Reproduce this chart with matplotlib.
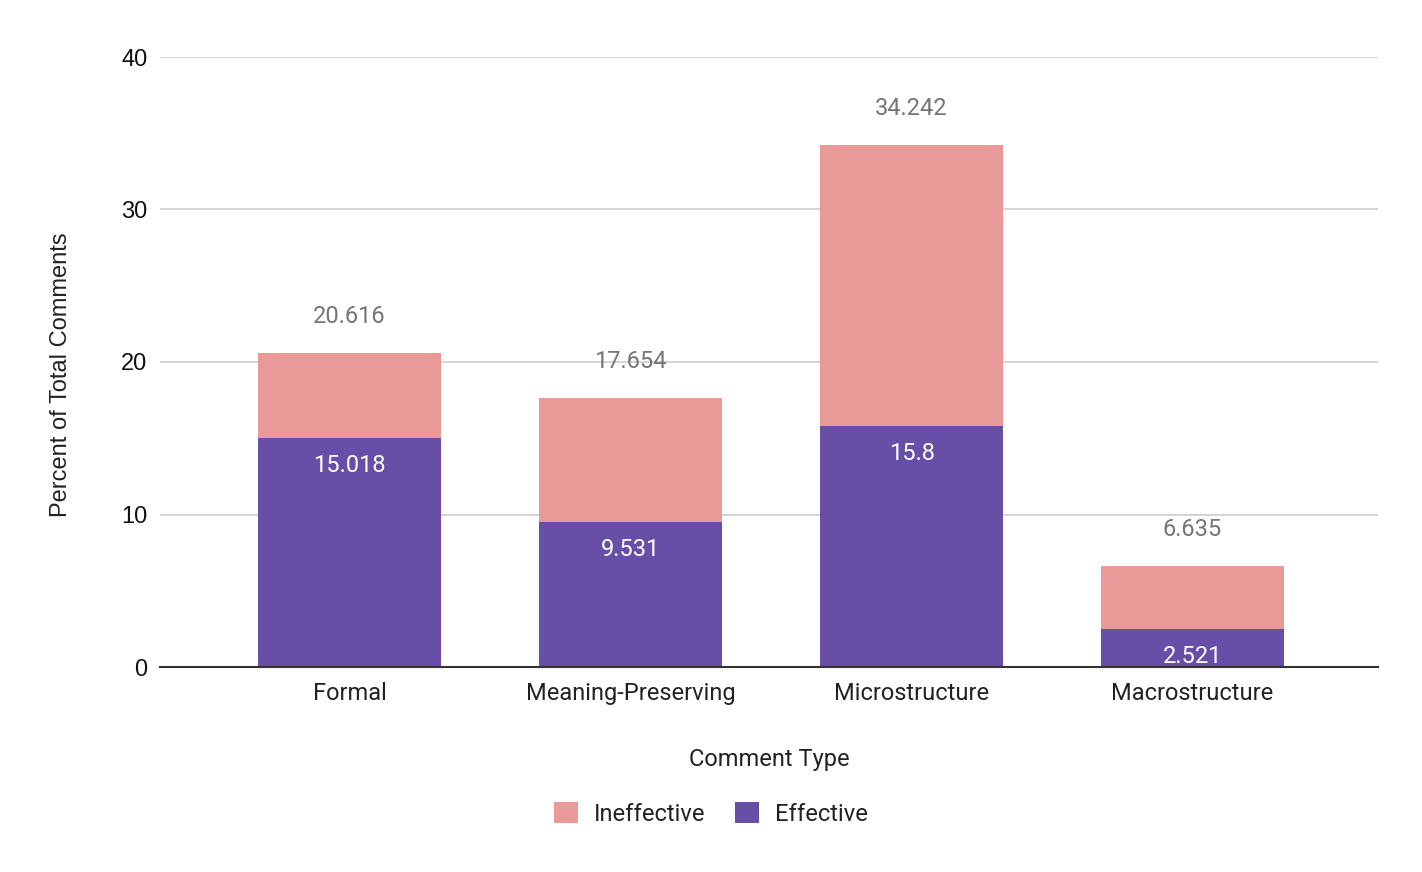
import numpy as np
import matplotlib
matplotlib.use("Agg")
import matplotlib.pyplot as plt
from matplotlib.patches import Patch

categories = ["Formal", "Meaning-Preserving", "Microstructure", "Macrostructure"]
effective = np.array([15.018, 9.531, 15.8, 2.521])
totals = np.array([20.616, 17.654, 34.242, 6.635])
ineffective = totals - effective

pink = "#EA9999"
purple = "#674EA7"

plt.rcParams['font.family'] = ['Roboto', 'DejaVu Sans']

fig = plt.figure(figsize=(14.22, 8.72), dpi=100)
ax = fig.add_axes([160/1422, 1-667/872, 1218/1422, 610/872])

x = np.arange(len(categories))
ax.bar(x, effective, width=0.65, color=purple, zorder=2)
ax.bar(x, ineffective, width=0.65, bottom=effective, color=pink, zorder=2)

for xi, e, t in zip(x, effective, totals):
    ax.annotate(f"{e:g}", (xi, e), xytext=(0, -20), textcoords="offset points",
                ha="center", va="center", color="white", fontsize=17, zorder=4)
    ax.annotate(f"{t:g}", (xi, t), xytext=(0, 26), textcoords="offset points",
                ha="center", va="center", color="#757575", fontsize=17, zorder=4)

ax.set_xlim(-0.675, 3.66)
ax.set_ylim(0, 40)
ax.set_yticks([0, 10, 20, 30, 40])
ax.grid(axis="y", color="#cccccc", lw=1.2, zorder=0)
ax.set_axisbelow(True)
for s in ["top", "right", "left"]:
    ax.spines[s].set_visible(False)
ax.spines["bottom"].set_color("#333333")
ax.spines["bottom"].set_linewidth(1.5)
ax.spines["bottom"].set_zorder(3)

ax.set_xticks(x)
ax.set_xticklabels(categories, fontsize=17, color="#222222")
ax.tick_params(axis="x", length=0, pad=11)
ax.tick_params(axis="y", length=0, pad=9, labelsize=17, labelcolor="#111111")
for lbl in ax.get_yticklabels():
    lbl.set_family(["Liberation Sans", "DejaVu Sans"])

ax.set_xlabel("Comment Type", fontsize=17, color="#222222")
ax.xaxis.set_label_coords(0.5, -0.132)
ax.set_ylabel("Percent of Total Comments", fontsize=17, color="#222222",
              family=["Liberation Sans", "DejaVu Sans"])
ax.yaxis.set_label_coords(-0.072, 0.479)

handles = [Patch(facecolor=pink, label="Ineffective"),
           Patch(facecolor=purple, label="Effective")]
fig.legend(handles=handles, loc="center", bbox_to_anchor=(711/1422, 1-814/872),
           ncol=2, frameon=False, fontsize=17, handlelength=1.0, handleheight=1.0,
           columnspacing=1.25, handletextpad=0.7, labelcolor="#222222")

fig.savefig("out.png", dpi=100)
